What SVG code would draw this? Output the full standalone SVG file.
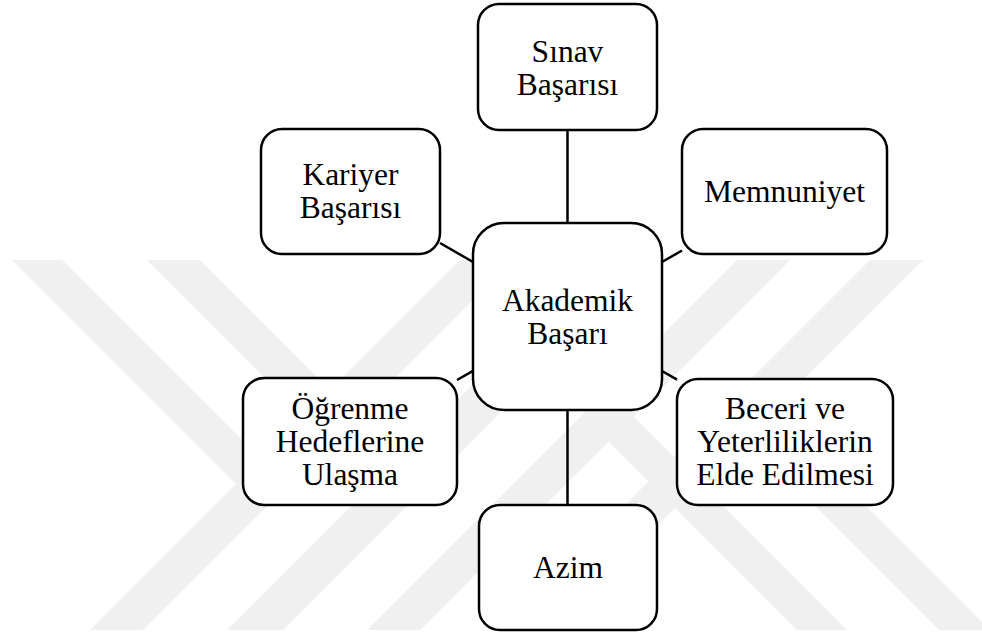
<svg xmlns="http://www.w3.org/2000/svg" width="982" height="635" viewBox="0 0 982 635">
<style>
.wm{fill:#f0f0f0;stroke:none}
.box{fill:#ffffff;stroke:#000000;stroke-width:2.5}
.conn{stroke:#000000;stroke-width:2.5;fill:none}
.lbl{font-size:31.5px;fill:#000000;text-anchor:middle}
</style>
<rect x="0" y="0" width="982" height="635" fill="#ffffff"/>
<g id="watermark">
<polygon class="wm" points="90,630 143,630 513,260 460,260"/>
<polygon class="wm" points="227,630 283,630 653,260 597,260"/>
<polygon class="wm" points="737,260 790,260 420,630 367,630"/>
<polygon class="wm" points="870,260 923,260 553,630 500,630"/>
<polygon class="wm" points="12,260 62,260 287.5,485.5 262.5,510.5"/>
<polygon class="wm" points="147,260 200,260 426.5,486.5 400,513"/>
<polygon class="wm" points="797,630 847,630 607,390 582,415"/>
<polygon class="wm" points="939,630 990,630 745,385 719.5,410.5"/>
</g>
<g id="connectors">
<line class="conn" x1="567.5" y1="130" x2="567.5" y2="223"/>
<line class="conn" x1="567.5" y1="410" x2="567.5" y2="505"/>
<line class="conn" x1="440" y1="243" x2="473" y2="262"/>
<line class="conn" x1="662" y1="262" x2="682" y2="250.5"/>
<line class="conn" x1="457" y1="380" x2="473" y2="370.8"/>
<line class="conn" x1="662" y1="371" x2="677" y2="379.7"/>
</g>
<g font-family="'Liberation Serif', 'DejaVu Serif', serif">
<g id="node-sinav">
<rect class="box" x="478" y="4" width="179" height="126" rx="21" ry="21"/>
<text class="lbl" x="567.5" y="61.5">Sınav</text>
<text class="lbl" x="567.5" y="94.5">Başarısı</text>
</g>
<g id="node-kariyer">
<rect class="box" x="261" y="129" width="179" height="125" rx="21" ry="21"/>
<text class="lbl" x="350.5" y="185">Kariyer</text>
<text class="lbl" x="350.5" y="218">Başarısı</text>
</g>
<g id="node-memnuniyet">
<rect class="box" x="682" y="129" width="205" height="125" rx="21" ry="21"/>
<text class="lbl" x="784.5" y="202">Memnuniyet</text>
</g>
<g id="node-akademik">
<rect class="box" x="473" y="223" width="189" height="187" rx="31" ry="31"/>
<text class="lbl" x="567.5" y="310.5">Akademik</text>
<text class="lbl" x="567.5" y="343.5">Başarı</text>
</g>
<g id="node-ogrenme">
<rect class="box" x="243" y="378" width="214" height="127" rx="21" ry="21"/>
<text class="lbl" x="350" y="418.5">Öğrenme</text>
<text class="lbl" x="350" y="451.5">Hedeflerine</text>
<text class="lbl" x="350" y="484.5">Ulaşma</text>
</g>
<g id="node-beceri">
<rect class="box" x="677" y="379" width="216" height="126" rx="21" ry="21"/>
<text class="lbl" x="785" y="419">Beceri ve</text>
<text class="lbl" x="785" y="452">Yeterliliklerin</text>
<text class="lbl" x="785" y="485">Elde Edilmesi</text>
</g>
<g id="node-azim">
<rect class="box" x="479" y="505" width="178" height="125" rx="21" ry="21"/>
<text class="lbl" x="568" y="578">Azim</text>
</g>
</g>
</svg>
